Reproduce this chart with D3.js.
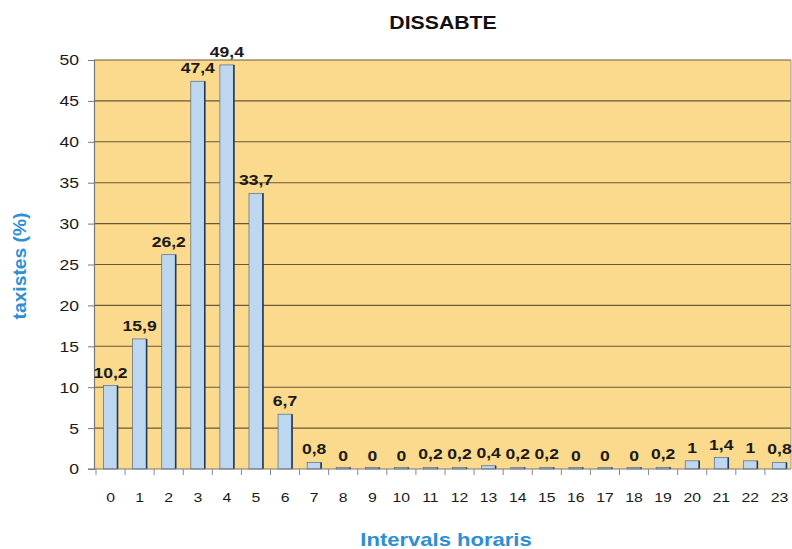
<!DOCTYPE html>
<html>
<head>
<meta charset="utf-8">
<script src="https://cdn.jsdelivr.net/npm/d3@7"></script>
<style>
  html, body { margin: 0; padding: 0; background: #fff; }
  svg { display: block; font-family: "Liberation Sans", Arial, Helvetica, sans-serif; }
</style>
</head>
<body>
<svg id="chart" width="792" height="549"></svg>
<script>
// Hourly share of taxi drivers working on Saturday
const hours = ["0","1","2","3","4","5","6","7","8","9","10","11","12","13","14","15","16","17","18","19","20","21","22","23"];
const shares = [10.2, 15.9, 26.2, 47.4, 49.4, 33.7, 6.7, 0.8, 0, 0, 0, 0.2, 0.2, 0.4, 0.2, 0.2, 0, 0, 0, 0.2, 1, 1.4, 1, 0.8];
const yTicks = [0, 5, 10, 15, 20, 25, 30, 35, 40, 45, 50];

const title = "DISSABTE";
const xTitle = "Intervals horaris";
const yTitle = "taxistes (%)";

const svg = d3.select("#chart");
const plot = { left: 94, right: 791, top: 60, bottom: 469 };
const WIDE = 1.17; // horizontal stretch of the lettering

const x = d3.scaleBand().domain(hours).range([96, 794]).paddingInner(0.52).paddingOuter(0.26);
const y = d3.scaleLinear().domain([0, 50]).range([plot.bottom, plot.top]);

const fmt = v => String(v).replace(".", ",");

// place text at (px, py), widened horizontally
function placeWide(sel, px, py, sx = WIDE) {
  sel.attr("transform", (d, i) => {
    const tx = typeof px === "function" ? px(d, i) : px;
    const ty = typeof py === "function" ? py(d, i) : py;
    return `translate(${tx},${ty}) scale(${sx},1)`;
  });
  return sel;
}

// plot background
svg.append("rect")
  .attr("x", plot.left).attr("y", plot.top)
  .attr("width", plot.right - plot.left).attr("height", plot.bottom - plot.top)
  .attr("fill", "#fbd98d");

// horizontal gridlines
svg.append("g").selectAll("line")
  .data(yTicks.filter(d => d > 0))
  .join("line")
  .attr("x1", plot.left).attr("x2", plot.right)
  .attr("y1", d => y(d)).attr("y2", d => y(d))
  .attr("stroke", "#6a5838").attr("stroke-width", 1.1);

// right border of plot area
svg.append("line")
  .attr("x1", plot.right).attr("x2", plot.right)
  .attr("y1", plot.top).attr("y2", plot.bottom)
  .attr("stroke", "#9a9a9a").attr("stroke-width", 1);

// y axis: line and ticks from d3.axisLeft, labels drawn widened
const yAxis = d3.axisLeft(y).tickValues(yTicks).tickSize(6).tickFormat("");
const gy = svg.append("g").attr("transform", `translate(${plot.left},0)`).call(yAxis);
gy.select(".domain").attr("stroke", "#777").attr("stroke-width", 1.2);
gy.selectAll(".tick line").attr("stroke", "#777");
placeWide(
  svg.append("g").selectAll("text")
    .data(yTicks)
    .join("text")
    .attr("text-anchor", "end")
    .attr("dy", "0.36em")
    .attr("font-size", 15)
    .attr("fill", "#1a1a1a")
    .text(d => d),
  79, d => y(d));

// bars
const bars = svg.append("g");
bars.selectAll("rect")
  .data(shares)
  .join("rect")
  .attr("x", (d, i) => x(hours[i]))
  .attr("width", x.bandwidth())
  .attr("y", d => Math.min(y(d), plot.bottom - 1.5))
  .attr("height", d => Math.max(plot.bottom - y(d), 1.5))
  .attr("fill", "#bcd7ef")
  .attr("stroke", "#5a6a80").attr("stroke-width", 0.7);

// shaded right edge of each bar
bars.selectAll("line")
  .data(shares)
  .join("line")
  .attr("x1", (d, i) => x(hours[i]) + x.bandwidth())
  .attr("x2", (d, i) => x(hours[i]) + x.bandwidth())
  .attr("y1", d => Math.min(y(d), plot.bottom - 1.5))
  .attr("y2", plot.bottom)
  .attr("stroke", "#1f3a5c").attr("stroke-width", 1.6);

// x axis
const xTickScale = d3.scaleLinear().domain([0, hours.length]).range(x.range());
const gx = svg.append("g");
gx.append("line")
  .attr("x1", 88).attr("x2", plot.right)
  .attr("y1", plot.bottom).attr("y2", plot.bottom)
  .attr("stroke", "#777").attr("stroke-width", 1.2);
gx.selectAll("line.tick")
  .data(d3.range(hours.length))
  .join("line").attr("class", "tick")
  .attr("x1", d => xTickScale(d)).attr("x2", d => xTickScale(d))
  .attr("y1", plot.bottom).attr("y2", plot.bottom + 6)
  .attr("stroke", "#888");
placeWide(
  gx.selectAll("text")
    .data(hours)
    .join("text")
    .attr("text-anchor", "middle")
    .attr("font-size", 13.5)
    .attr("fill", "#1a1a1a")
    .text(d => d),
  d => x(d) + x.bandwidth() / 2, 502);

// value labels
placeWide(
  svg.append("g").selectAll("text")
    .data(shares)
    .join("text")
    .attr("text-anchor", "middle")
    .attr("font-size", 15)
    .attr("font-weight", "bold")
    .attr("fill", "#1a1a1a")
    .text(d => fmt(d)),
  (d, i) => x(hours[i]) + x.bandwidth() / 2, d => y(d) - 8);

// titles
placeWide(
  svg.append("text")
    .attr("text-anchor", "middle")
    .attr("font-size", 18).attr("font-weight", "bold")
    .attr("fill", "#111")
    .text(title),
  443, 29, 1.18);

placeWide(
  svg.append("text")
    .attr("text-anchor", "middle")
    .attr("font-size", 19).attr("font-weight", "bold")
    .attr("fill", "#2d8fd5")
    .text(xTitle),
  446, 546, 1.16);

svg.append("text")
  .attr("transform", "translate(26,266) rotate(-90) scale(1.07,1)")
  .attr("text-anchor", "middle")
  .attr("font-size", 18).attr("font-weight", "bold")
  .attr("fill", "#2d8fd5")
  .text(yTitle);
</script>
</body>
</html>
